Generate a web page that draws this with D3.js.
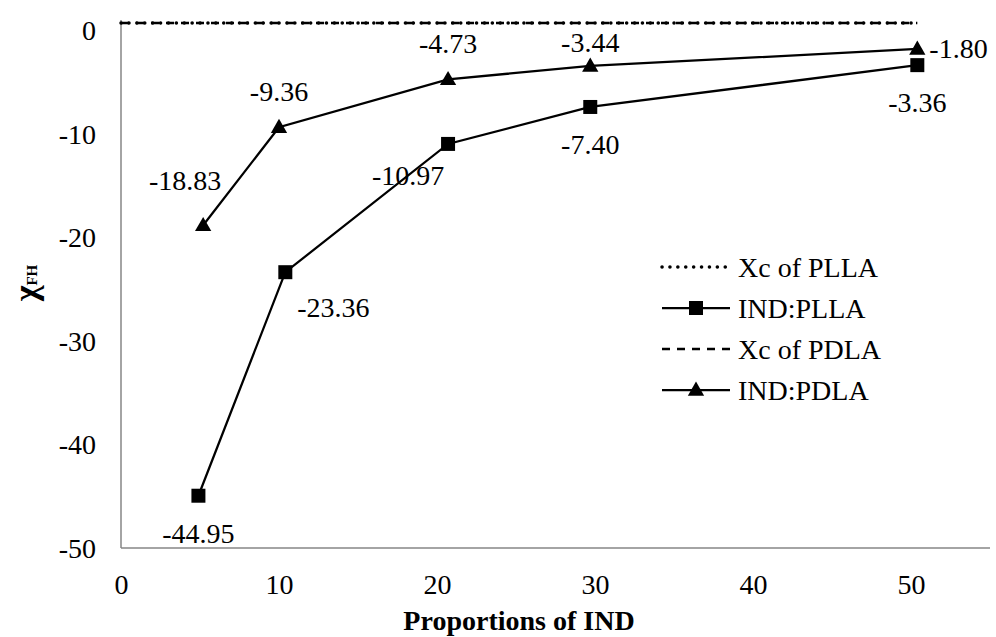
<!DOCTYPE html>
<html>
<head>
<meta charset="utf-8">
<script src="https://cdn.jsdelivr.net/npm/d3@7/dist/d3.min.js"></script>
<style>
  html, body { margin: 0; padding: 0; background: #fff; }
  svg { display: block; }
</style>
</head>
<body>
<svg id="chart" width="996" height="637"></svg>
<script>
// ---- data ----
const xTicks = [0, 10, 20, 30, 40, 50];
const yTicks = [0, -10, -20, -30, -40, -50];
const pllaX = [4.9, 10.4, 20.7, 29.7, 50.4];
const pllaY = [-44.95, -23.36, -10.97, -7.40, -3.36];
const pdlaX = [5.2, 10.0, 20.7, 29.7, 50.4];
const pdlaY = [-18.83, -9.36, -4.73, -3.44, -1.80];
const xcX = [0, 50.4];
const xcPLLA = [0.7, 0.7];
const xcPDLA = [0.7, 0.7];
const pllaLabelPos = ["below", "belowRight", "belowLeft", "below", "below"];
const pdlaLabelPos = ["aboveLeft", "above", "above", "aboveClose", "right"];
const legendNames = ["Xc of PLLA", "IND:PLLA", "Xc of PDLA", "IND:PDLA"];

// ---- layout ----
const svg = d3.select("#chart");
const x = d3.scaleLinear().domain([0, 55]).range([121, 990]);
const y = d3.scaleLinear().domain([-50, 1]).range([548, 20]);
const FS = 28;
const FONT = "'Liberation Serif', 'Times New Roman', Times, serif";
svg.attr("font-family", FONT);

// axes
const xAxis = svg.append("g").attr("transform", `translate(0,${y(-50)})`)
  .call(d3.axisBottom(x).tickValues(xTicks).tickSize(0).tickPadding(0).tickFormat(d => String(d)));
xAxis.attr("font-family", FONT);
xAxis.select(".domain").attr("stroke", "#868686").attr("stroke-width", 1.5).attr("d", `M${x(0)},0H${x(55)}`);
xAxis.selectAll("text").attr("font-size", FS).attr("dy", null).attr("y", 46).attr("fill", "#000");

const yAxis = svg.append("g").attr("transform", `translate(${x(0)},0)`)
  .call(d3.axisLeft(y).tickValues(yTicks).tickSize(0).tickPadding(0).tickFormat(d => String(d)));
yAxis.attr("font-family", FONT);
yAxis.select(".domain").attr("stroke", "#868686").attr("stroke-width", 1.5).attr("d", `M0,${y(1)}V${y(-50)}`);
yAxis.selectAll("text").attr("font-size", FS).attr("x", -25).attr("dy", "0.33em").attr("fill", "#000");

// axis titles
svg.append("text").attr("x", 519).attr("y", 630).attr("text-anchor", "middle")
  .attr("font-size", FS).attr("font-weight", "bold").text("Proportions of IND");
const yt = svg.append("text").attr("transform", `translate(37,283) rotate(-90)`)
  .attr("text-anchor", "middle").attr("font-weight", "bold");
yt.append("tspan").attr("font-size", 34).text("χ");
yt.append("tspan").attr("font-size", 15).attr("dy", 0).text("FH");

// Xc lines
const line = d3.line().x(d => x(d[0])).y(d => y(d[1]));
svg.append("path").datum(xcX.map((v, i) => [v, xcPDLA[i]])).attr("d", line)
  .attr("fill", "none").attr("stroke", "#000").attr("stroke-width", 2.5).attr("stroke-dasharray", "8 7");
svg.append("path").datum(xcX.map((v, i) => [v, xcPLLA[i]])).attr("d", line)
  .attr("fill", "none").attr("stroke", "#000").attr("stroke-width", 3.5)
  .attr("stroke-linecap", "round").attr("stroke-dasharray", "0.1 7.8");

// series lines
const pllaData = pllaX.map((v, i) => [v, pllaY[i]]);
const pdlaData = pdlaX.map((v, i) => [v, pdlaY[i]]);
[pllaData, pdlaData].forEach(dat => {
  svg.append("path").datum(dat).attr("d", line)
    .attr("fill", "none").attr("stroke", "#000").attr("stroke-width", 2.25);
});

const sq = d3.symbol().type(d3.symbolSquare).size(196);
const tri = d3.symbol().type(d3.symbolTriangle).size(115);
svg.selectAll(".sq").data(pllaData).join("path").attr("class", "sq")
  .attr("transform", d => `translate(${x(d[0])},${y(d[1])})`).attr("d", sq).attr("fill", "#000");
svg.selectAll(".tri").data(pdlaData).join("path").attr("class", "tri")
  .attr("transform", d => `translate(${x(d[0])},${y(d[1]) + 1})`).attr("d", tri).attr("fill", "#000");

// data labels
const off = {
  below: [0, 47, "middle"], above: [0, -26, "middle"], aboveClose: [0, -14, "middle"],
  belowRight: [48, 45, "middle"], belowLeft: [-40, 41, "middle"],
  aboveLeft: [-18, -35, "middle"], right: [12, 9, "start"]
};
function labels(dat, pos) {
  dat.forEach((d, i) => {
    const o = off[pos[i]];
    svg.append("text").attr("x", x(d[0]) + o[0]).attr("y", y(d[1]) + o[1])
      .attr("text-anchor", o[2]).attr("font-size", FS).text(d[1].toFixed(2));
  });
}
labels(pllaData, pllaLabelPos);
labels(pdlaData, pdlaLabelPos);

// legend
const lg = svg.append("g");
const lgY0 = 267, lgStep = 41, lgX0 = 662, lgX1 = 730;
legendNames.forEach((name, i) => {
  const yy = lgY0 + i * lgStep;
  const l = lg.append("line").attr("x1", lgX0).attr("x2", lgX1).attr("y1", yy).attr("y2", yy)
    .attr("stroke", "#000");
  if (i === 0) l.attr("stroke-width", 3.5).attr("stroke-linecap", "round").attr("stroke-dasharray", "0.1 7.8");
  else if (i === 2) l.attr("stroke-width", 2.5).attr("stroke-dasharray", "8 7");
  else l.attr("stroke-width", 2.25);
  if (i === 1) lg.append("path").attr("transform", `translate(696,${yy})`).attr("d", sq).attr("fill", "#000");
  if (i === 3) lg.append("path").attr("transform", `translate(696,${yy + 1})`).attr("d", tri).attr("fill", "#000");
  lg.append("text").attr("x", 738).attr("y", yy + 10).attr("font-size", FS).text(name);
});
</script>
</body>
</html>
